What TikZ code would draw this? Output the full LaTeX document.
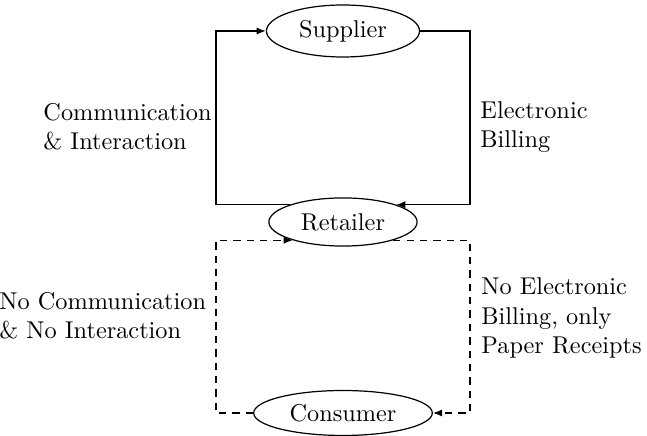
\documentclass[tikz,border=0pt]{standalone}
\usetikzlibrary{shapes.geometric,arrows.meta}
\begin{document}
\begin{tikzpicture}[x=0.4115pt,y=-0.4115pt,
  ent/.style={draw,ellipse,inner sep=0pt,line width=0.5pt},
  lbl/.style={align=left,inner sep=0pt,anchor=west},
  conn/.style={line width=0.6pt,-{Latex[length=3.8pt,width=3pt]}},
  dconn/.style={conn,dash pattern=on 3pt off 2.5pt}]
\useasboundingbox (0,0) rectangle (647,436);
\node[ent,minimum width=63pt,minimum height=21.4pt] (sup) at (343,31) {Supplier};
\node[ent,minimum width=61pt,minimum height=19.8pt] (ret) at (343,222) {Retailer};
\node[ent,minimum width=73.5pt,minimum height=18.5pt] (con) at (343,413) {Consumer};
\coordinate (L) at (216,0);
\coordinate (R) at (470,0);
\draw[conn] (ret.162) -| (L |- sup.west) -- (sup.west);
\draw[conn] (sup.east) -| (R |- ret.18) -- (ret.18);
\draw[dconn] (con.west) -| (L |- ret.200) -- (ret.200);
\draw[dconn] (ret.340) -| (R |- con.east) -- (con.east);
\node[lbl] (l1) at (43,127) {Communication\\\& Interaction};
\node[lbl] (l2) at (480,127) {Electronic\\Billing};
\node[lbl] (l3) at (481,318) {No Electronic\\Billing, only\\Paper Receipts};
\node[lbl] (l4) at (-1,316) {No Communication\\\& No Interaction};
\end{tikzpicture}
\end{document}
